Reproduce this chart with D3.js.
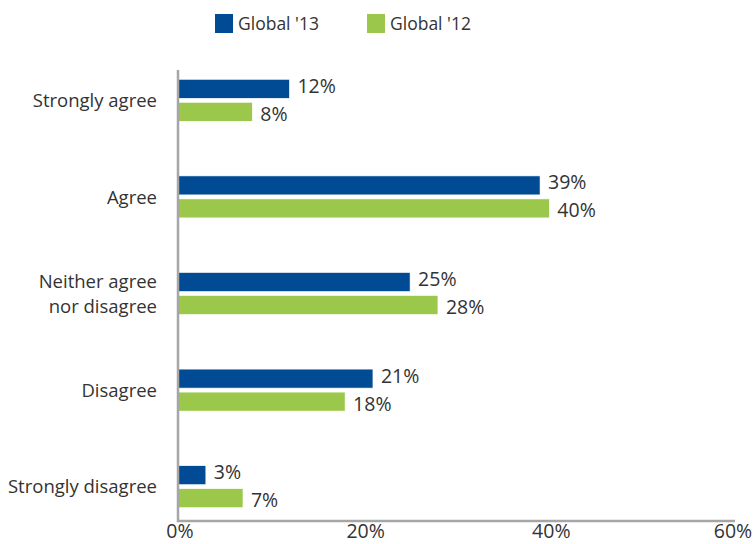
<!DOCTYPE html>
<html>
<head>
<meta charset="utf-8">
<script src="https://cdn.jsdelivr.net/npm/d3@7"></script>
<style>
  html, body { margin: 0; padding: 0; background: #fff; }
  svg text { font-family: "Open Sans", "Noto Sans", sans-serif; fill: #333; }
</style>
</head>
<body>
<svg id="chart" width="755" height="544"></svg>
<script>
// Survey responses, share of respondents (%)
const categories = ["Strongly agree", "Agree", "Neither agree\nnor disagree", "Disagree", "Strongly disagree"];
const seriesNames = ["Global '13", "Global '12"];
const global13 = [12, 39, 25, 21, 3];
const global12 = [8, 40, 28, 18, 7];
const xTicks = [0, 20, 40, 60];
const colors = ["#004b93", "#9bc84a"];

const svg = d3.select("#chart");
const catFont = 18.5;
const numFont = 19.5;

const x = d3.scaleLinear().domain([0, 60]).range([178, 735]);
const y = d3.scaleBand().domain(categories).range([52, 535]);
const barH = 19, barGap = 4;
// value labels sit a little above the upper bar and below the lower bar
const labelShift = [-3, 2];

const rows = categories.map((c, i) => ({ cat: c, vals: [global13[i], global12[i]] }));

// Bars and value labels
const g = svg.append("g");
rows.forEach(r => {
  const center = y(r.cat) + y.bandwidth() / 2;
  r.vals.forEach((v, k) => {
    const top = center - barH - barGap / 2 + k * (barH + barGap);
    g.append("rect")
      .attr("x", x(0))
      .attr("y", top)
      .attr("width", x(v) - x(0))
      .attr("height", barH)
      .attr("fill", colors[k])
      .attr("stroke", "#ffffff")
      .attr("stroke-width", 0.6);
    g.append("text")
      .attr("x", x(v) + 8)
      .attr("y", top + barH / 2 + labelShift[k])
      .attr("dy", "0.36em")
      .attr("font-size", numFont)
      .text(v + "%");
  });
});

// Category labels
rows.forEach(r => {
  const lines = r.cat.split("\n");
  const center = y(r.cat) + y.bandwidth() / 2;
  const lh = 25;
  const t = svg.append("text")
    .attr("text-anchor", "end")
    .attr("font-size", catFont);
  lines.forEach((ln, i) => {
    t.append("tspan")
      .attr("x", 157)
      .attr("y", center + (i - (lines.length - 1) / 2) * lh)
      .attr("dy", "0.36em")
      .text(ln);
  });
});

// Axes
const axisColor = "#a6a6a6";
svg.append("line")
  .attr("x1", x(0)).attr("x2", x(0))
  .attr("y1", 70).attr("y2", 522)
  .attr("stroke", axisColor).attr("stroke-width", 2.5);
svg.append("line")
  .attr("x1", x(0) - 1).attr("x2", x(60))
  .attr("y1", 521).attr("y2", 521)
  .attr("stroke", axisColor).attr("stroke-width", 2.5);

svg.selectAll(".xtick")
  .data(xTicks)
  .join("text")
  .attr("class", "xtick")
  .attr("x", d => Math.min(x(d) + 2, 733))
  .attr("y", 538)
  .attr("text-anchor", "middle")
  .attr("font-size", numFont)
  .text(d => d + "%");

// Legend
const legend = svg.append("g");
const legendX = [215, 367];
seriesNames.forEach((name, k) => {
  legend.append("rect")
    .attr("x", legendX[k]).attr("y", 14)
    .attr("width", 18).attr("height", 19)
    .attr("fill", colors[k]);
  legend.append("text")
    .attr("x", legendX[k] + 23)
    .attr("y", 24)
    .attr("dy", "0.36em")
    .attr("font-size", 17.5)
    .text(name);
});
</script>
</body>
</html>
